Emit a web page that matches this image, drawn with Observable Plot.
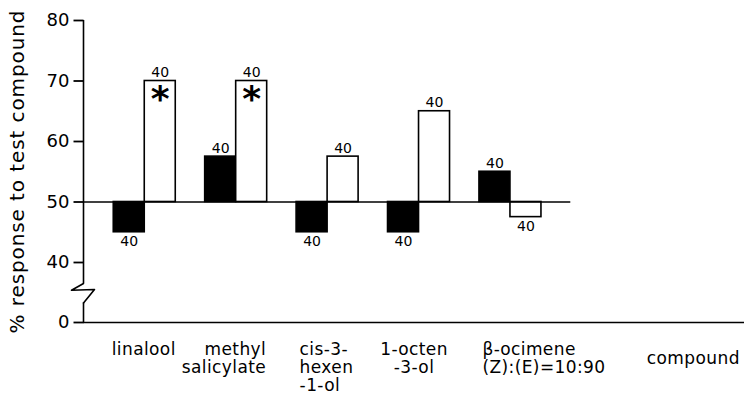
<!DOCTYPE html>
<html>
<head>
<meta charset="utf-8">
<script src="https://cdn.jsdelivr.net/npm/d3@7"></script>
<script src="https://cdn.jsdelivr.net/npm/@observablehq/plot@0.6"></script>
<style>
  html, body { margin: 0; padding: 0; background: #fff; }
  #chart svg { display: block; }
  .ytitle text { letter-spacing: 0.9px; }
  .cat text { letter-spacing: 0.4px; }
</style>
</head>
<body>
<div id="chart"></div>
<script>
// ---- data ----
const compounds = ["linalool", "methyl\nsalicylate", "cis-3-\nhexen\n-1-ol", "1-octen\n-3-ol", "β-ocimene\n(Z):(E)=10:90"];
const blackValues = [45, 57.5, 45, 45, 55];
const whiteValues = [70, 70, 57.5, 65, 47.5];
const blackN = [40, 40, 40, 40, 40];
const whiteN = [40, 40, 40, 40, 40];
const whiteSignificant = [true, true, false, false, false];
const yTicks = [0, 40, 50, 60, 70, 80];
const neutral = 50;
const yTitle = "% response to test compound";
const xTitle = "compound";

// ---- layout (not data) ----
const W = 744, H = 395;
const mL = 83, mR = 0, mT = 20, mB = 73;
const xMin = -0.67, xMax = 6.56;
const pxU = (W - mL - mR) / (xMax - xMin);
const barW = 31 / pxU;
const px = p => p / pxU;

// broken y axis: 0..40 compressed (1.5 px/unit), 40..80 full (6.05 px/unit)
const squeeze = 1.5 / 6.05;
const brk = 40;
const u = v => v >= brk ? v : brk - (brk - v) * squeeze;

const rows = compounds.map((c, i) => ({
  i, c,
  b: blackValues[i], w: whiteValues[i],
  bn: blackN[i], wn: whiteN[i], sig: whiteSignificant[i]
}));

const labelLayout = [
  {anchor: "middle", dx: -1},
  {anchor: "end", dx: 30},
  {anchor: "start", dx: -28},
  {anchor: "middle", dx: -5},
  {anchor: "start", dx: -28}
];

const font = "DejaVu Sans, sans-serif";
const sw = 1.6;

const zig = [
  {x: xMin, y: 26},
  {x: xMin + px(-12), y: 21.5},
  {x: xMin + px(11), y: 22},
  {x: xMin, y: 13}
];
const tickRows = yTicks.map(v => ({v, t: u(v)}));

const marks = [
  Plot.rect(rows, {x1: d => d.i - barW, x2: d => d.i, y1: () => u(neutral), y2: d => u(d.b), fill: "black", stroke: "black", strokeWidth: sw}),
  Plot.rect(rows, {x1: d => d.i, x2: d => d.i + barW, y1: () => u(neutral), y2: d => u(d.w), fill: "white", stroke: "black", strokeWidth: sw}),
  Plot.ruleY([u(neutral)], {x1: xMin, x2: 4.66, stroke: "black", strokeWidth: sw}),
  Plot.ruleY([u(0)], {x1: xMin, x2: xMax, stroke: "black", strokeWidth: sw}),
  Plot.ruleX([xMin], {y1: u(26), y2: u(80), stroke: "black", strokeWidth: sw}),
  Plot.ruleX([xMin], {y1: u(0), y2: u(13), stroke: "black", strokeWidth: sw}),
  Plot.line(zig, {x: "x", y: d => u(d.y), stroke: "black", strokeWidth: sw}),
  Plot.link(tickRows, {x1: () => xMin + px(-10), x2: () => xMin, y1: "t", y2: "t", stroke: "black", strokeWidth: 1.8}),
  Plot.text(tickRows, {x: () => xMin, y: "t", text: d => String(d.v), textAnchor: "end", dx: -14, fontSize: 18, fontFamily: font}),
  Plot.text(rows.filter(d => d.b >= neutral), {x: d => d.i - barW / 2, y: d => u(d.b), text: d => String(d.bn), lineAnchor: "bottom", dy: -4, fontSize: 14, fontFamily: font}),
  Plot.text(rows.filter(d => d.b < neutral), {x: d => d.i - barW / 2, y: d => u(d.b), text: d => String(d.bn), lineAnchor: "top", dy: 4, fontSize: 14, fontFamily: font}),
  Plot.text(rows.filter(d => d.w >= neutral), {x: d => d.i + barW / 2, y: d => u(d.w), text: d => String(d.wn), lineAnchor: "bottom", dy: -4, fontSize: 14, fontFamily: font}),
  Plot.text(rows.filter(d => d.w < neutral), {x: d => d.i + barW / 2, y: d => u(d.w), text: d => String(d.wn), lineAnchor: "top", dy: 4, fontSize: 14, fontFamily: font}),
  Plot.text(rows.filter(d => d.sig), {x: d => d.i + barW / 2, y: d => u(d.w), text: () => "*", lineAnchor: "top", dy: 4, fontSize: 36, fontWeight: "bold", fontFamily: font}),
  ...rows.map((d, k) => Plot.text([d], {x: "i", y: () => u(0), text: "c", textAnchor: labelLayout[k].anchor, dx: labelLayout[k].dx, lineAnchor: "top", dy: 19, lineHeight: 1.08, fontSize: 17, fontFamily: font, className: "cat"})),
  Plot.text([xTitle], {x: 6.0, y: () => u(0), text: d => d, lineAnchor: "middle", dy: 36, fontSize: 17, fontFamily: font, className: "cat"}),
  Plot.text([yTitle], {frameAnchor: "left", text: d => d, rotate: -90, dx: 17 - mL, textAnchor: "middle", lineAnchor: "middle", fontSize: 20, fontFamily: font, className: "ytitle"})
];

const chart = Plot.plot({
  width: W, height: H,
  marginLeft: mL, marginRight: mR, marginTop: mT, marginBottom: mB,
  style: {fontFamily: font, fontSize: "18px", color: "black", background: "white"},
  x: {domain: [xMin, xMax], axis: null},
  y: {domain: [u(0), 80], range: [H - mB, mT], axis: null},
  marks
});
document.getElementById("chart").appendChild(chart);
</script>
</body>
</html>
